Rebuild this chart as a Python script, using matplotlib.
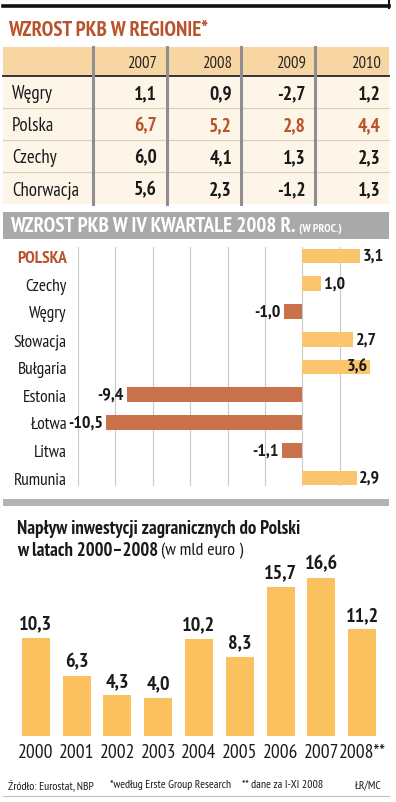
import matplotlib
matplotlib.use("Agg")
import matplotlib.pyplot as plt
from matplotlib import font_manager as fm
from matplotlib.patches import Rectangle
from matplotlib.lines import Line2D

names = {f.name for f in fm.fontManager.ttflist}
FONT = 'PT Sans Narrow' if 'PT Sans Narrow' in names else 'DejaVu Sans'
plt.rcParams['font.family'] = [FONT, 'DejaVu Sans']

# ---------------- data ----------------
table_title = "WZROST PKB W REGIONIE*"
table_years = ["2007", "2008", "2009", "2010"]
table_countries = ["Węgry", "Polska", "Czechy", "Chorwacja"]
gdp_wegry = ["1,1", "0,9", "-2,7", "1,2"]
gdp_polska = ["6,7", "5,2", "2,8", "4,4"]
gdp_czechy = ["6,0", "4,1", "1,3", "2,3"]
gdp_chorwacja = ["5,6", "2,3", "-1,2", "1,3"]
table_rows = [gdp_wegry, gdp_polska, gdp_czechy, gdp_chorwacja]

q4_title = "WZROST PKB W IV KWARTALE 2008 R."
q4_countries = ["POLSKA", "Czechy", "Węgry", "Słowacja", "Bułgaria",
                "Estonia", "Łotwa", "Litwa", "Rumunia"]
q4_values = [3.1, 1.0, -1.0, 2.7, 3.6, -9.4, -10.5, -1.1, 2.9]

fdi_years = ["2000", "2001", "2002", "2003", "2004", "2005", "2006", "2007", "2008**"]
fdi_values = [10.3, 6.3, 4.3, 4.0, 10.2, 8.3, 15.7, 16.6, 11.2]

# ---------------- styles ----------------
W, H = 396, 803
RUST = "#b8532b"
PEACH = "#f8d6a4"
CREAM = "#fdf5e8"
GRAY = "#a9a9a9"
POS = "#fbc56e"
NEG = "#c8714a"
BAR = "#fbc15f"
INK = "#1a1a1a"

fig = plt.figure(figsize=(W / 100, H / 100), dpi=100)
fig.patch.set_facecolor("white")

def px_axes(x0, y0, x1, y1):
    return fig.add_axes([x0 / W, 1 - y1 / H, (x1 - x0) / W, (y1 - y0) / H])

bg = px_axes(0, 0, W, H)
bg.set_xlim(0, W)
bg.set_ylim(H, 0)
bg.axis("off")
bg.set_zorder(-1)

def right_end(text_obj):
    fig.canvas.draw()
    bb = text_obj.get_window_extent()
    return bg.transData.inverted().transform((bb.x1, 0))[0]

# ---------------- section 1: table ----------------
bg.add_line(Line2D([3, 389], [7, 7], color="#111111", lw=2.6))
bg.add_line(Line2D([389, 389], [2, 9], color="#111111", lw=1.5))
bg.text(8, 30, table_title, color=RUST, fontsize=15, fontweight="bold",
        va="center", ha="left")

tx0, tx1 = 3, 389
head_top, head_bot = 48, 77
row_h = 32
bg.add_patch(Rectangle((tx0, head_top), tx1 - tx0, head_bot - head_top,
                       facecolor=PEACH, edgecolor="none"))
bg.add_patch(Rectangle((tx0, head_bot), tx1 - tx0, row_h * len(table_countries),
                       facecolor=CREAM, edgecolor="none"))
bg.add_line(Line2D([tx0, tx1], [head_bot, head_bot], color="#333333", lw=1.4))
for i in range(1, len(table_countries)):
    y = head_bot + i * row_h
    bg.add_line(Line2D([tx0, tx1], [y, y], color="#d9cdbd", lw=0.8))
col_sep = [93, 167, 241, 315]
for x in col_sep:
    bg.add_line(Line2D([x, x], [head_top, head_bot + row_h * len(table_countries)],
                       color="#8f8f8f", lw=2.2))
col_right = [157, 232, 306, 381]
for j, yr in enumerate(table_years):
    bg.text(col_right[j], (head_top + head_bot) / 2 + 1, yr, ha="right", va="center",
            fontsize=12, color="#222222")
for i, (name, vals) in enumerate(zip(table_countries, table_rows)):
    yc = head_bot + row_h * (i + 0.5) + 1
    bg.text(12, yc, name, ha="left", va="center", fontsize=13.5, color=INK)
    col = RUST if name == "Polska" else INK
    for j, v in enumerate(vals):
        bg.text(col_right[j], yc, v, ha="right", va="center", fontsize=14,
                fontweight="bold", color=col)

# ---------------- section 2: Q4 bar chart ----------------
bg.add_patch(Rectangle((3, 213), 386, 27, facecolor=GRAY, edgecolor="none"))
t = bg.text(10, 227, q4_title, color="white", fontsize=15, fontweight="bold",
            va="center", ha="left")
bg.text(right_end(t) + 4, 229, "(W PROC.)", color="white", fontsize=8.5,
        fontweight="bold", va="center", ha="left")

ax2 = px_axes(78, 248, 390, 487)
n = len(q4_countries)
ypos = list(range(n))
colors = [POS if v >= 0 else NEG for v in q4_values]
ax2.barh(ypos, q4_values, height=0.54, color=colors, zorder=2)
ax2.set_xlim(-12, 4.69)
ax2.set_ylim(n - 1 + 8 / 27.75, -9 / 27.75)
for gx in range(-12, 3, 2):
    ax2.axvline(gx, color="#c8c8c8", lw=0.8, zorder=1)
for s in ax2.spines.values():
    s.set_visible(False)
ax2.set_xticks([])
ax2.set_yticks(ypos)
ax2.set_yticklabels(q4_countries, fontsize=12.5)
ax2.tick_params(axis="y", length=0, pad=8)
for lab in ax2.get_yticklabels():
    if lab.get_text() == "POLSKA":
        lab.set_color(RUST)
        lab.set_fontweight("bold")
    else:
        lab.set_color(INK)
for y, v in zip(ypos, q4_values):
    lbl = f"{v:.1f}".replace(".", ",")
    if v >= 0:
        if v > 3.3:
            ax2.text(v - 0.1, y, lbl, ha="right", va="center", fontsize=13,
                     fontweight="bold", color=INK, zorder=3)
        else:
            ax2.text(v + 0.15, y, lbl, ha="left", va="center", fontsize=13,
                     fontweight="bold", color=INK, zorder=3)
    else:
        ax2.text(v - 0.15, y, lbl, ha="right", va="center", fontsize=13,
                 fontweight="bold", color=INK, zorder=3)

# ---------------- section 3: FDI bars ----------------
bg.add_patch(Rectangle((3, 500), 386, 7, facecolor="#b3b3b3", edgecolor="none"))
bg.text(17, 529, "Napływ inwestycji zagranicznych do Polski", fontsize=13.5,
        fontweight="bold", color=INK, va="center", ha="left")
t2 = bg.text(17, 551, "w latach 2000–2008", fontsize=13.5, fontweight="bold",
             color=INK, va="center", ha="left")
bg.text(right_end(t2) + 3, 551, "(w mld euro )", fontsize=13, color=INK,
        va="center", ha="left")

ax3 = px_axes(15.6, 567, 382.4, 737)
xs = list(range(len(fdi_values)))
ax3.bar(xs, fdi_values, width=0.687, color=BAR, zorder=2)
ax3.set_xlim(-0.5, len(fdi_values) - 0.5)
ax3.set_ylim(0, 170 / 9.52)
for s in ax3.spines.values():
    s.set_visible(False)
ax3.set_yticks([])
ax3.set_xticks(xs)
ax3.set_xticklabels(fdi_years, fontsize=14, color=INK)
ax3.tick_params(axis="x", length=0, pad=5)
for x, v in zip(xs, fdi_values):
    ax3.text(x, v + 0.55, f"{v:.1f}".replace(".", ","), ha="center", va="bottom",
             fontsize=14.5, fontweight="bold", color=INK)

# footer
bg.text(8, 785, "Źródło: Eurostat, NBP", fontsize=8.5, color=INK, va="center")
bg.text(110, 785, "*według Erste Group Research", fontsize=8.5, color=INK, va="center")
bg.text(242, 785, "** dane za I-XI 2008", fontsize=8.5, color=INK, va="center")
bg.text(382, 785, "ŁR/MC", fontsize=8.5, color=INK, va="center", ha="right")
bg.add_line(Line2D([3, 389], [797, 797], color="#c0c0c0", lw=0.8))

fig.savefig("out.png", dpi=100)
